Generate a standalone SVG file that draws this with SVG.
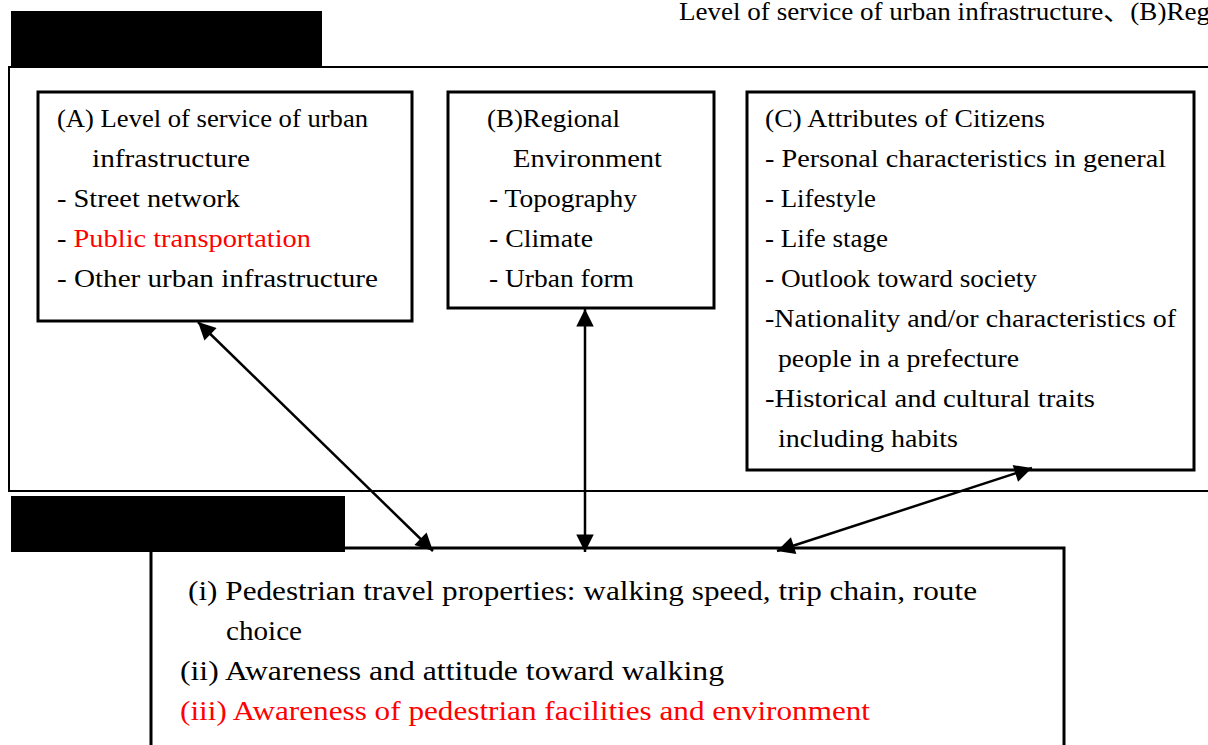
<svg xmlns="http://www.w3.org/2000/svg" width="1208" height="745" viewBox="0 0 1208 745">
<style>
.box{fill:#fff;stroke:#000;stroke-width:3}
.frame{fill:none;stroke:#000;stroke-width:2}
.blk{fill:#000}
.t{font-family:"Liberation Serif","Noto Sans CJK JP",serif;font-size:25px;fill:#000}
.b{font-family:"Liberation Serif","Noto Sans CJK JP",serif;font-size:28px;fill:#000}
.red{fill:#ff0000}
.con{stroke:#000;stroke-width:2.5;fill:none;marker-start:url(#ah);marker-end:url(#ah)}
</style>
<defs>
<marker id="ah" viewBox="0 0 10 10" refX="10" refY="5" markerWidth="8" markerHeight="7" markerUnits="strokeWidth" orient="auto-start-reverse">
<path d="M0,0 L10,5 L0,10 z" fill="#000"/>
</marker>
</defs>
<rect width="1208" height="745" fill="#fff"/>
<text class="t" x="679" y="20" font-size="22" textLength="531" lengthAdjust="spacingAndGlyphs">Level of service of urban infrastructure、(B)Reg</text>
<g id="outer-frame">
<rect class="blk" x="11" y="11" width="311" height="55"/>
<rect class="frame" x="9" y="67" width="1210" height="424"/>
</g>
<g id="nodeA">
<rect class="box" x="38" y="92" width="374" height="229"/>
<text class="t" x="57" y="127" textLength="311" lengthAdjust="spacingAndGlyphs">(A) Level of service of urban</text>
<text class="t" x="92" y="167" textLength="158" lengthAdjust="spacingAndGlyphs">infrastructure</text>
<text class="t" x="57" y="207" textLength="183" lengthAdjust="spacingAndGlyphs">- Street network</text>
<text class="t" x="57" y="247" textLength="254" lengthAdjust="spacingAndGlyphs"><tspan>- </tspan><tspan class="red">Public transportation</tspan></text>
<text class="t" x="57" y="287" textLength="321" lengthAdjust="spacingAndGlyphs">- Other urban infrastructure</text>
</g>
<g id="nodeB">
<rect class="box" x="448" y="92" width="266" height="216"/>
<text class="t" x="487" y="127" textLength="133" lengthAdjust="spacingAndGlyphs">(B)Regional</text>
<text class="t" x="513" y="167" textLength="149" lengthAdjust="spacingAndGlyphs">Environment</text>
<text class="t" x="489" y="207" textLength="148" lengthAdjust="spacingAndGlyphs">- Topography</text>
<text class="t" x="489" y="247" textLength="104" lengthAdjust="spacingAndGlyphs">- Climate</text>
<text class="t" x="489" y="287" textLength="145" lengthAdjust="spacingAndGlyphs">- Urban form</text>
</g>
<g id="nodeC">
<rect class="box" x="747" y="92" width="447" height="378"/>
<text class="t" x="765" y="127" textLength="280" lengthAdjust="spacingAndGlyphs">(C) Attributes of Citizens</text>
<text class="t" x="765" y="167" textLength="401" lengthAdjust="spacingAndGlyphs">- Personal characteristics in general</text>
<text class="t" x="765" y="207" textLength="111" lengthAdjust="spacingAndGlyphs">- Lifestyle</text>
<text class="t" x="765" y="247" textLength="123" lengthAdjust="spacingAndGlyphs">- Life stage</text>
<text class="t" x="765" y="287" textLength="272" lengthAdjust="spacingAndGlyphs">- Outlook toward society</text>
<text class="t" x="765" y="327" textLength="411" lengthAdjust="spacingAndGlyphs">-Nationality and/or characteristics of</text>
<text class="t" x="778" y="367" textLength="241" lengthAdjust="spacingAndGlyphs">people in a prefecture</text>
<text class="t" x="765" y="407" textLength="330" lengthAdjust="spacingAndGlyphs">-Historical and cultural traits</text>
<text class="t" x="778" y="447" textLength="180" lengthAdjust="spacingAndGlyphs">including habits</text>
</g>
<g id="nodeBottom">
<rect class="box" x="151" y="548" width="913" height="220"/>
<rect class="blk" x="11" y="496" width="334" height="56"/>
<text class="b" x="188" y="600" textLength="789" lengthAdjust="spacingAndGlyphs">(i) Pedestrian travel properties: walking speed, trip chain, route</text>
<text class="b" x="226" y="640" textLength="76" lengthAdjust="spacingAndGlyphs">choice</text>
<text class="b" x="180" y="680" textLength="544" lengthAdjust="spacingAndGlyphs">(ii) Awareness and attitude toward walking</text>
<text class="b red" x="180" y="720" textLength="690" lengthAdjust="spacingAndGlyphs">(iii) Awareness of pedestrian facilities and environment</text>
</g>
<g id="connectors">
<line class="con" x1="198" y1="322" x2="433" y2="551"/>
<line class="con" x1="585" y1="309" x2="585" y2="552"/>
<line class="con" x1="1032" y1="468" x2="777" y2="551"/>
</g>
</svg>
